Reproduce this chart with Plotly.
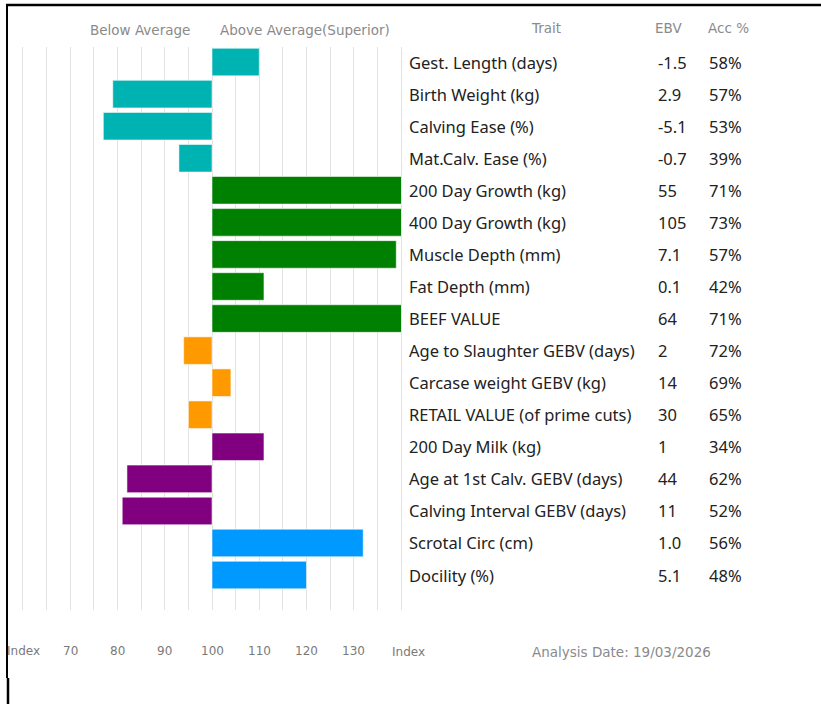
import plotly.graph_objects as go

traits = ["Gest. Length (days)", "Birth Weight (kg)", "Calving Ease (%)", "Mat.Calv. Ease (%)",
          "200 Day Growth (kg)", "400 Day Growth (kg)", "Muscle Depth (mm)", "Fat Depth (mm)",
          "BEEF VALUE", "Age to Slaughter GEBV (days)", "Carcase weight GEBV (kg)",
          "RETAIL VALUE (of prime cuts)", "200 Day Milk (kg)", "Age at 1st Calv. GEBV (days)",
          "Calving Interval GEBV (days)", "Scrotal Circ (cm)", "Docility (%)"]
index_vals = [110, 79, 77, 93, 145, 145, 139, 111, 145, 94, 104, 95, 111, 82, 81, 132, 120]
ebv = ["-1.5", "2.9", "-5.1", "-0.7", "55", "105", "7.1", "0.1", "64", "2", "14", "30", "1", "44", "11", "1.0", "5.1"]
acc = ["58%", "57%", "53%", "39%", "71%", "73%", "57%", "42%", "71%", "72%", "69%", "65%", "34%", "62%", "52%", "56%", "48%"]
groups = ["calving"] * 4 + ["growth"] * 5 + ["carcase"] * 3 + ["maternal"] * 3 + ["other"] * 2
group_colors = {"calving": "#00b3b3", "growth": "#008000", "carcase": "#ff9900",
                "maternal": "#800080", "other": "#0099ff"}
tick_vals = [70, 80, 90, 100, 110, 120, 130]
baseline = 100

W, H = 821, 704
L, R, T, B = 23, 420, 47, 94
PW, PH = W - L - R, H - T - B


def px(x):
    return (x - L) / PW


def py(y):
    return (H - B - y) / PH


rows = list(range(len(traits)))
fig = go.Figure()
fig.add_trace(go.Bar(
    y=rows, x=[v - baseline for v in index_vals], base=[baseline] * len(rows),
    orientation="h", width=0.86,
    marker=dict(color=[group_colors[g] for g in groups],
                line=dict(color="rgba(255,255,255,0.55)", width=1)),
    hoverinfo="skip", showlegend=False,
))

ann = []
trait_font = dict(family="Noto Sans, sans-serif", size=16.5, color="#222222")
for i in rows:
    ann.append(dict(x=px(407), y=i, xref="paper", yref="y", text=traits[i], showarrow=False,
                    xanchor="left", yanchor="middle", font=trait_font))
    ann.append(dict(x=px(656), y=i, xref="paper", yref="y", text=ebv[i], showarrow=False,
                    xanchor="left", yanchor="middle", font=trait_font))
    ann.append(dict(x=px(707), y=i, xref="paper", yref="y", text=acc[i], showarrow=False,
                    xanchor="left", yanchor="middle", font=trait_font))

hdr_font = dict(family="DejaVu Sans, Verdana, sans-serif", size=13.5, color="#8a8a8a")
ann.append(dict(x=px(140), y=py(30), xref="paper", yref="paper", text="Below Average",
                showarrow=False, xanchor="center", yanchor="middle", font=hdr_font))
ann.append(dict(x=px(305), y=py(30), xref="paper", yref="paper", text="Above Average(Superior)",
                showarrow=False, xanchor="center", yanchor="middle", font=hdr_font))
col_font = dict(family="DejaVu Sans, Verdana, sans-serif", size=13.5, color="#8a8a8a")
ann.append(dict(x=px(546), y=py(28), xref="paper", yref="paper", text="Trait",
                showarrow=False, xanchor="center", yanchor="middle", font=col_font))
ann.append(dict(x=px(668), y=py(28), xref="paper", yref="paper", text="EBV",
                showarrow=False, xanchor="center", yanchor="middle", font=col_font))
ann.append(dict(x=px(728), y=py(28), xref="paper", yref="paper", text="Acc %",
                showarrow=False, xanchor="center", yanchor="middle", font=col_font))

tick_font = dict(family="DejaVu Sans, Verdana, sans-serif", size=12, color="#7a7a7a")
for v in tick_vals:
    ann.append(dict(x=v, y=py(651), xref="x", yref="paper", text=str(v), showarrow=False,
                    xanchor="center", yanchor="middle", font=tick_font))
ann.append(dict(x=px(5), y=py(651), xref="paper", yref="paper", text="Index", showarrow=False,
                xanchor="left", yanchor="middle", font=tick_font))
ann.append(dict(x=px(390), y=py(652), xref="paper", yref="paper", text="Index", showarrow=False,
                xanchor="left", yanchor="middle", font=tick_font))
ann.append(dict(x=px(530), y=py(652), xref="paper", yref="paper", text="Analysis Date: 19/03/2026",
                showarrow=False, xanchor="left", yanchor="middle",
                font=dict(family="DejaVu Sans, Verdana, sans-serif", size=13.5, color="#8a8a8a")))

shapes = [
    dict(type="line", xref="paper", yref="paper", x0=px(6), x1=px(821), y0=py(5), y1=py(5),
         line=dict(color="black", width=2.5), layer="above"),
    dict(type="line", xref="paper", yref="paper", x0=px(7), x1=px(7), y0=py(4), y1=py(678),
         line=dict(color="black", width=2), layer="above"),
    dict(type="line", xref="paper", yref="paper", x0=px(8), x1=px(8), y0=py(678), y1=py(704),
         line=dict(color="black", width=2.5), layer="above"),
]

fig.update_layout(
    width=W, height=H,
    margin=dict(l=L, r=R, t=T, b=B, pad=0, autoexpand=False),
    paper_bgcolor="white", plot_bgcolor="white",
    xaxis=dict(range=[60, 140], dtick=5, tick0=60, showgrid=True, gridcolor="#e3e3e3",
               gridwidth=1, showticklabels=False, zeroline=False, showline=False, fixedrange=True),
    yaxis=dict(range=[17.09, -0.47], showgrid=False, showticklabels=False, zeroline=False,
               showline=True, mirror=True, linecolor="#e3e3e3", linewidth=1, fixedrange=True),
    annotations=ann, shapes=shapes, bargap=0,
)

fig.write_html("out.html", config={"displayModeBar": False, "staticPlot": True},
               post_script="document.body.style.margin='0';")
